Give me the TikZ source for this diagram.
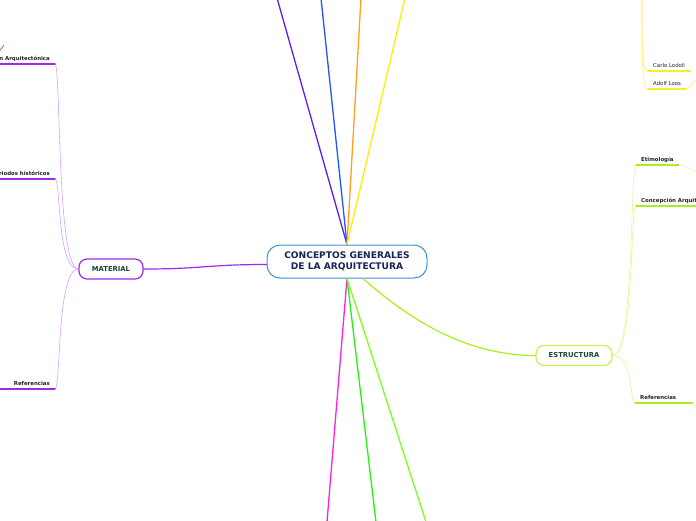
\documentclass[tikz,border=0pt]{standalone}
\usepackage{fontspec}
\setmainfont{DejaVu Sans}
\usetikzlibrary{positioning}
\definecolor{rootblue}{RGB}{64,146,214}
\definecolor{navy}{RGB}{22,38,84}
\definecolor{topicgreen}{RGB}{24,70,52}
\definecolor{leafgrey}{RGB}{34,34,34}
\definecolor{matpurple}{RGB}{160,40,235}
\definecolor{matlight}{RGB}{214,160,255}
\definecolor{estgreen}{RGB}{196,246,80}
\definecolor{estline}{RGB}{170,238,30}
\definecolor{estlight}{RGB}{220,252,150}
\definecolor{lodyellow}{RGB}{255,236,40}
\definecolor{lodlight}{RGB}{255,240,110}
\definecolor{spindigo}{RGB}{88,32,240}
\definecolor{spblue}{RGB}{32,84,255}
\definecolor{sporange}{RGB}{255,160,32}
\definecolor{spyellow}{RGB}{255,240,0}
\definecolor{spmagenta}{RGB}{255,30,230}
\definecolor{spgreen}{RGB}{40,240,20}
\definecolor{splime}{RGB}{128,255,30}

\tikzset{
  root/.style={draw=rootblue, line width=1pt, rounded corners=13pt, fill=white,
    minimum width=160pt, minimum height=33pt, align=center, text=navy,
    font=\fontsize{9.1}{11}\selectfont\bfseries},
  topic/.style={draw=#1, line width=1.2pt, rounded corners=8pt, fill=white,
    minimum height=20pt, text=topicgreen, font=\fontsize{6.8}{8}\selectfont\bfseries},
  leaf/.style={inner xsep=5pt, inner ysep=2.5pt, text height=4pt, text depth=1.2pt,
    text=leafgrey, font=\fontsize{5.4}{6}\selectfont\bfseries},
  plainleaf/.style={leaf, font=\fontsize{5.4}{6}\selectfont},
  uline/.style={draw=#1, line width=1.5pt},
  branch/.style={draw=#1, line width=0.6pt},
  spoke/.style={draw=#1, line width=1.3pt}
}

\begin{document}
\begin{tikzpicture}[x=1pt, y=-1pt, line cap=round]
    \useasboundingbox (0,0) rectangle (696,520);
    % central idea and main topics
    \node[root] (root) at (347,261.5) {CONCEPTOS GENERALES\\DE LA ARQUITECTURA};
    \node[topic=matpurple, minimum width=64pt] (mat) at (111,269) {MATERIAL};
    \node[topic=estgreen, minimum width=76pt] (est) at (574,355.5) {ESTRUCTURA};
    % leaves of MATERIAL
    \node[leaf, anchor=south east] (comp) at (55,64) {Composición Arquitectónica};
    \node[leaf, anchor=south east] (peri) at (55,179) {Periodos históricos};
    \node[leaf, anchor=south east, text width=47pt, align=right] (refm) at (55,389) {Referencias};
    % leaves of ESTRUCTURA
    \node[leaf, anchor=south west] (etim) at (636,165) {Etimología};
    \node[leaf, anchor=south west] (conc) at (636,206) {Concepción Arquitectónica};
    \node[leaf, anchor=south west, text width=47pt] (refe) at (635,403) {Referencias};
    % leaves up right
    \node[plainleaf, anchor=south west] (lodoli) at (648,71) {Carlo Lodoli};
    \node[plainleaf, anchor=south west] (loos) at (648,89) {Adolf Loos};
    % free ends
    \coordinate (lodtop) at (642,-10);
    \coordinate (compchild) at (4,45);
    \coordinate (compfrom) at (-2,53);
    \coordinate (etimchild) at (700,174);
    \coordinate (refechild) at (697,426);
    \coordinate (looschild) at (699,78);
    % spokes leaving the picture
    \foreach \c/\x in {spindigo/277, spblue/321, sporange/361, spyellow/405}{
      \coordinate (end-\c) at (\x,-2);
      \draw[spoke=\c] (root.north) -- (end-\c);
    }
    \foreach \c/\x in {spmagenta/327, spgreen/376, splime/426}{
      \coordinate (end-\c) at (\x,522);
      \draw[spoke=\c] (root.south) -- (end-\c);
    }
    % main branches
    \draw[branch=matpurple, line width=1.2pt] ([yshift=-3pt]root.west)
      .. controls +(-60,0) and +(60,0) .. (mat.east);
    \draw[branch=estline, line width=1.2pt] ([xshift=16pt]root.south)
      .. controls +(45,40) and +(-70,0) .. (est.west);
    % MATERIAL
    \foreach \n in {comp, peri, refm}{
      \draw[branch=matlight] (mat.west) .. controls +(-22,0) and +(6,0) .. (\n.south east);
      \draw[uline=matpurple] (\n.south west) -- (\n.south east);
    }
    \draw[branch=matpurple] (compfrom) -- (compchild);
    % ESTRUCTURA
    \foreach \n in {etim, conc, refe}{
      \draw[branch=estlight] (est.east) .. controls +(22,0) and +(-6,0) .. (\n.south west);
      \draw[uline=estline] (\n.south west) -- (\n.south east);
    }
    \draw[branch=estlight] (etim.south east) .. controls +(8,0) and +(-8,-3) .. (etimchild);
    \draw[branch=estlight] (refe.south east) .. controls +(4,0) and +(0,-10) .. (refechild);
    % up right
    \foreach \n in {lodoli, loos}{
      \draw[branch=lodlight] (lodtop) .. controls +(0,70) and +(-6,0) .. (\n.south west);
      \draw[uline=lodyellow] (\n.south west) -- (\n.south east);
    }
    \draw[branch=lodlight] (loos.south east) .. controls +(4,0) and +(-4,0) .. (looschild);
\end{tikzpicture}
\end{document}
